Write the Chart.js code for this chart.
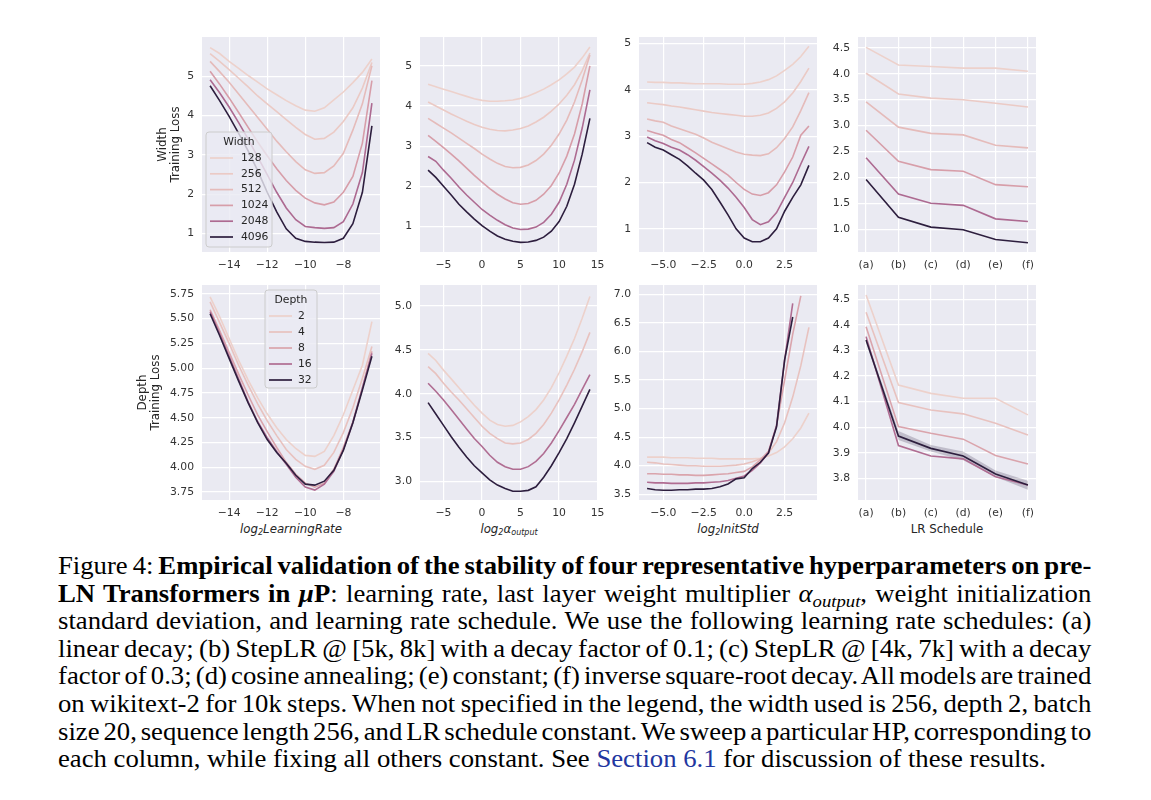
<!DOCTYPE html>
<html>
<head>
<meta charset="utf-8">
<script src="https://cdn.jsdelivr.net/npm/chart.js@4"></script>
<style>
  body { margin: 0; background: #fff; width: 1151px; height: 800px; position: relative; overflow: hidden; }
  canvas { position: absolute; }
  .xt { position: absolute; width: 178px; text-align: center; font-family: "DejaVu Sans"; font-size: 11.8px; color: #262626; line-height: 16px; }
  .xt i { font-style: italic; }
  .xt sub { font-size: 8px; vertical-align: -2px; line-height: 0; }
  .cap { position: absolute; left: 58px; top: 552px; width: 948px; font-family: "Liberation Serif"; font-size: 24.5px; color: #000;
         transform: scaleX(1.09); transform-origin: 0 0; }
  .cap div { height: 27.6px; line-height: 27.6px; white-space: nowrap; text-align: justify; text-align-last: justify; word-spacing: -2.8px; }
  .cap div.last { text-align-last: left; word-spacing: 0; }
  .cap sub { font-size: 0.7em; line-height: 0; vertical-align: -0.3em; }
  .cap .ref { color: #2236a0; }
</style>
</head>
<body>

<div class="xt" style="left:202px;top:521px"><i>log<sub>2</sub>LearningRate</i></div>
<div class="xt" style="left:420px;top:521px"><i>log<sub>2</sub>α<sub>output</sub></i></div>
<div class="xt" style="left:639px;top:521px"><i>log<sub>2</sub>InitStd</i></div>
<div class="xt" style="left:858px;top:521px">LR Schedule</div>

<div class="cap">
  <div>Figure 4: <b>Empirical validation of the stability of four representative hyperparameters on pre-</b></div>
  <div><b>LN Transformers in <i>µ</i>P</b>: learning rate, last layer weight multiplier <i>α<sub>output</sub></i>, weight initialization</div>
  <div>standard deviation, and learning rate schedule. We use the following learning rate schedules: (a)</div>
  <div>linear decay; (b) StepLR @ [5k, 8k] with a decay factor of 0.1; (c) StepLR @ [4k, 7k] with a decay</div>
  <div>factor of 0.3; (d) cosine annealing; (e) constant; (f) inverse square-root decay. All models are trained</div>
  <div>on wikitext-2 for 10k steps. When not specified in the legend, the width used is 256, depth 2, batch</div>
  <div>size 20, sequence length 256, and LR schedule constant. We sweep a particular HP, corresponding to</div>
  <div class="last">each column, while fixing all others constant. See <span class="ref">Section 6.1</span> for discussion of these results.</div>
</div>

<script>
// ---- x values of each sweep ----
const lrX = [-15, -14.5, -14, -13.5, -13, -12.5, -12, -11.5, -11, -10.5, -10, -9.5, -9, -8.5, -8, -7.5, -7, -6.5];
const alphaX = [-7, -6, -5, -4, -3, -2, -1, 0, 1, 2, 3, 4, 5, 6, 7, 8, 9, 10, 11, 12, 13, 14];
const stdX = [-6, -5.5, -5, -4.5, -4, -3.5, -3, -2.5, -2, -1.5, -1, -0.5, 0, 0.5, 1, 1.5, 2, 2.5, 3, 3.5, 4];
const schedules = ['(a)', '(b)', '(c)', '(d)', '(e)', '(f)'];

const widths = [128, 256, 512, 1024, 2048, 4096];
const depths = [2, 4, 8, 16, 32];
const alphaDepths = [2, 4, 16, 32];

// ---- top row: width sweeps (one row per width) ----
const widthLrLoss = [
  [5.73, 5.58, 5.38, 5.2, 5.02, 4.85, 4.68, 4.53, 4.38, 4.25, 4.14, 4.11, 4.2, 4.4, 4.6, 4.84, 5.1, 5.44],
  [5.58, 5.38, 5.17, 4.95, 4.73, 4.5, 4.3, 4.1, 3.9, 3.7, 3.52, 3.4, 3.42, 3.58, 3.85, 4.2, 4.7, 5.35],
  [5.38, 5.12, 4.85, 4.55, 4.25, 3.95, 3.65, 3.35, 3.08, 2.83, 2.62, 2.53, 2.55, 2.72, 3.04, 3.63, 4.3, 5.27],
  [5.13, 4.8, 4.45, 4.08, 3.7, 3.33, 2.98, 2.65, 2.35, 2.1, 1.9, 1.78, 1.73, 1.8, 2.05, 2.45, 3.3, 4.89],
  [4.91, 4.58, 4.22, 3.82, 3.4, 2.95, 2.5, 2.05, 1.65, 1.35, 1.18, 1.15, 1.13, 1.15, 1.3, 1.75, 2.55, 4.32],
  [4.76, 4.38, 3.98, 3.55, 3.1, 2.6, 2.05, 1.55, 1.12, 0.88, 0.8, 0.78, 0.77, 0.78, 0.88, 1.25, 2.05, 3.74]
];
const widthAlphaLoss = [
  [4.54, 4.48, 4.42, 4.36, 4.3, 4.24, 4.18, 4.14, 4.12, 4.12, 4.13, 4.15, 4.19, 4.25, 4.33, 4.42, 4.53, 4.65, 4.8, 4.97, 5.2, 5.47],
  [4.1, 4.0, 3.9, 3.8, 3.71, 3.62, 3.54, 3.47, 3.42, 3.39, 3.38, 3.4, 3.44, 3.5, 3.6, 3.72, 3.87, 4.05, 4.27, 4.53, 4.88, 5.32],
  [3.69, 3.57, 3.45, 3.33, 3.2, 3.07, 2.94, 2.8, 2.68, 2.57, 2.49, 2.46, 2.47, 2.53, 2.64, 2.8, 3.02, 3.3, 3.65, 4.1, 4.65, 5.27],
  [3.27, 3.12, 2.96, 2.8, 2.63, 2.45, 2.27, 2.1, 1.94, 1.8, 1.68, 1.59, 1.55, 1.57, 1.65, 1.8, 2.02, 2.33, 2.75, 3.3, 4.05, 5.0],
  [2.74, 2.62, 2.4, 2.2, 1.98, 1.78, 1.6, 1.42, 1.28, 1.15, 1.04, 0.96, 0.92, 0.93, 0.98, 1.1, 1.3, 1.6, 2.05, 2.65, 3.45, 4.4],
  [2.4, 2.22, 2.0, 1.78, 1.55, 1.36, 1.18, 1.02, 0.88, 0.76, 0.68, 0.63, 0.6, 0.61, 0.65, 0.73, 0.88, 1.12, 1.5, 2.05, 2.8, 3.69]
];
const widthStdLoss = [
  [4.17, 4.16, 4.16, 4.15, 4.15, 4.14, 4.13, 4.13, 4.13, 4.13, 4.12, 4.12, 4.12, 4.14, 4.17, 4.22, 4.3, 4.42, 4.55, 4.72, 4.94],
  [3.72, 3.7, 3.68, 3.65, 3.63, 3.6, 3.57, 3.54, 3.51, 3.49, 3.47, 3.45, 3.43, 3.43, 3.45, 3.5, 3.6, 3.74, 3.93, 4.18, 4.47],
  [3.37, 3.33, 3.3, 3.22, 3.16, 3.1, 3.04, 2.96, 2.87, 2.8, 2.73, 2.66, 2.61, 2.59, 2.58, 2.62, 2.75, 2.95, 3.2, 3.55, 3.94],
  [3.12, 3.07, 3.02, 2.93, 2.86, 2.75, 2.64, 2.52, 2.4, 2.28, 2.16, 2.0, 1.85, 1.75, 1.72, 1.78, 1.95, 2.23, 2.55, 3.02, 3.22],
  [2.98, 2.9, 2.84, 2.76, 2.7, 2.6, 2.48, 2.34, 2.2, 2.05, 1.88, 1.68, 1.46, 1.2, 1.09, 1.15, 1.35, 1.68, 2.0, 2.4, 2.78],
  [2.86, 2.76, 2.7, 2.6, 2.5, 2.36, 2.2, 2.05, 1.85, 1.58, 1.3, 1.0, 0.8, 0.72, 0.72, 0.8, 1.0, 1.38, 1.68, 1.95, 2.37]
];
const widthSchedLoss = [
  [4.51, 4.17, 4.14, 4.11, 4.11, 4.05],
  [4.01, 3.61, 3.53, 3.5, 3.43, 3.36],
  [3.46, 2.97, 2.85, 2.82, 2.62, 2.57],
  [2.91, 2.31, 2.15, 2.12, 1.86, 1.82],
  [2.38, 1.68, 1.5, 1.46, 1.2, 1.15],
  [1.96, 1.23, 1.04, 0.99, 0.8, 0.74]
];

// ---- bottom row: depth sweeps ----
const depthLrLoss = [
  [5.72, 5.52, 5.3, 5.08, 4.88, 4.7, 4.54, 4.4, 4.28, 4.19, 4.12, 4.11, 4.16, 4.32, 4.53, 4.78, 5.03, 5.47],
  [5.67, 5.46, 5.25, 5.03, 4.83, 4.64, 4.47, 4.32, 4.18, 4.08, 4.01, 3.98, 4.02, 4.15, 4.35, 4.6, 4.9, 5.22],
  [5.59, 5.38, 5.16, 4.94, 4.73, 4.53, 4.36, 4.2, 4.05, 3.93, 3.84, 3.8, 3.84, 3.98, 4.2, 4.46, 4.8, 5.17],
  [5.57, 5.35, 5.12, 4.89, 4.66, 4.46, 4.3, 4.16, 4.03, 3.9, 3.8, 3.77, 3.83, 3.96, 4.18, 4.45, 4.8, 5.15],
  [5.55, 5.33, 5.1, 4.87, 4.65, 4.45, 4.28, 4.15, 4.04, 3.92, 3.83, 3.82, 3.86, 3.97, 4.17, 4.45, 4.78, 5.12]
];
const depthAlphaLoss = [
  [4.46, 4.38, 4.27, 4.17, 4.07, 3.97, 3.87, 3.78, 3.7, 3.65, 3.63, 3.64, 3.68, 3.74, 3.82, 3.93, 4.07, 4.24, 4.43, 4.63, 4.86, 5.11],
  [4.31, 4.23, 4.12, 4.02, 3.93, 3.83, 3.73, 3.63, 3.55, 3.49, 3.44, 3.43, 3.44, 3.48, 3.55, 3.65, 3.78, 3.93, 4.1, 4.28, 4.48, 4.7],
  [4.12, 4.03, 3.93, 3.82, 3.71, 3.6, 3.49, 3.4, 3.3, 3.22, 3.17, 3.14, 3.14, 3.17, 3.23, 3.32, 3.44, 3.58, 3.73, 3.88, 4.05, 4.22],
  [3.9, 3.77, 3.64, 3.51, 3.39, 3.28, 3.18, 3.1, 3.02, 2.96, 2.92, 2.89, 2.89, 2.9, 2.94, 3.05, 3.18, 3.33, 3.49, 3.67, 3.86, 4.05]
];
// deeper models diverge earlier, so their runs stop at a smaller init std
const depthStdLoss = [
  [4.15, 4.15, 4.15, 4.14, 4.14, 4.14, 4.13, 4.13, 4.13, 4.12, 4.12, 4.12, 4.12, 4.12, 4.13, 4.17, 4.23, 4.33, 4.47, 4.66, 4.92],
  [4.06, 4.05, 4.03, 4.02, 4.01, 4.0, 4.0, 3.99, 3.99, 3.99, 4.0, 4.01, 4.03, 4.07, 4.12, 4.22, 4.42, 4.75, 5.2, 5.75, 6.42],
  [3.86, 3.86, 3.85, 3.85, 3.84, 3.84, 3.83, 3.83, 3.84, 3.85, 3.86, 3.88, 3.9, 3.98, 4.1, 4.25, 4.7, 5.5, 6.3, 6.97],
  [3.71, 3.7, 3.7, 3.69, 3.69, 3.69, 3.7, 3.7, 3.71, 3.72, 3.74, 3.78, 3.82, 3.92, 4.05, 4.23, 4.7, 5.85, 6.84],
  [3.6, 3.58, 3.57, 3.57, 3.58, 3.58, 3.59, 3.59, 3.6, 3.63, 3.68, 3.77, 3.79, 3.95, 4.06, 4.22, 4.68, 5.85, 6.6]
];
const depthSchedLoss = [
  [4.517, 4.165, 4.132, 4.113, 4.113, 4.048],
  [4.449, 4.096, 4.067, 4.052, 4.015, 3.969],
  [4.393, 4.002, 3.976, 3.953, 3.889, 3.856],
  [4.354, 3.928, 3.887, 3.876, 3.806, 3.774],
  [4.341, 3.965, 3.917, 3.887, 3.817, 3.774]
];
const depth32SchedLow = [4.33, 3.95, 3.905, 3.87, 3.805, 3.755];
const depth32SchedHigh = [4.352, 3.985, 3.93, 3.905, 3.83, 3.79];

// ---- tick values ----
const lrTicks = [-14, -12, -10, -8];
const alphaTicks = [-5, 0, 5, 10, 15];
const stdTicks = [-5, -2.5, 0, 2.5];
const schedTicks = [0, 1, 2, 3, 4, 5];
const widthLossTicks = [1, 2, 3, 4, 5];
const widthSchedTicks = [1.0, 1.5, 2.0, 2.5, 3.0, 3.5, 4.0, 4.5];
const depthLrTicks = [3.75, 4.0, 4.25, 4.5, 4.75, 5.0, 5.25, 5.5, 5.75];
const depthAlphaTicks = [3.0, 3.5, 4.0, 4.5, 5.0];
const depthStdTicks = [3.5, 4.0, 4.5, 5.0, 5.5, 6.0, 6.5, 7.0];
const depthSchedTicks = [3.8, 3.9, 4.0, 4.1, 4.2, 4.3, 4.4, 4.5];

// seaborn's default numeric hue palette (cubehelix, light -> dark)
function cubehelix(v) {
  const x = 0.85 - 0.7 * v;
  const a = 0.4 * x * (1 - x);
  const phi = 0.8 * Math.PI * x;
  const c = Math.cos(phi), s = Math.sin(phi);
  const f = t => Math.round(Math.min(1, Math.max(0, t)) * 255);
  const r = x + a * (-0.14861 * c + 1.78277 * s);
  const g = x + a * (-0.29227 * c - 0.90649 * s);
  const b = x + a * (1.97294 * c);
  return 'rgb(' + f(r) + ',' + f(g) + ',' + f(b) + ')';
}
const widthColors = widths.map(w => cubehelix((w - 128) / (4096 - 128)));
const depthColor = d => cubehelix((d - 2) / 30);
const depthColors = depths.map(depthColor);
const alphaDepthColors = alphaDepths.map(depthColor);

const fmtInt = v => (v < 0 ? '\u2212' : '') + Math.abs(v);
const fmt1 = v => (v < 0 ? '\u2212' : '') + Math.abs(v).toFixed(1);
const fmt2 = v => (v < 0 ? '\u2212' : '') + Math.abs(v).toFixed(2);
const fmtSched = v => schedules[v];

const COLS = [202, 420, 639, 858];
const ROWS = [37, 285];
const PLOT_W = 178, PLOT_H = 215;
const TOP_PAD = 8, RIGHT_PAD = 14, X_AXIS_H = 26;
const tickFont = { family: 'DejaVu Sans', size: 10.8 };

const darkgrid = {
  id: 'darkgrid',
  beforeDraw(chart) {
    const { ctx, chartArea: a } = chart;
    ctx.save();
    ctx.fillStyle = '#eaeaf2';
    ctx.fillRect(a.left, a.top, a.right - a.left, a.bottom - a.top);
    ctx.restore();
  }
};

function boxLegend(spec) {
  return {
    id: 'boxLegend',
    afterDatasetsDraw(chart) {
      const { ctx, chartArea: a } = chart;
      const x = a.left + spec.x, y = a.top + spec.y;
      ctx.save();
      ctx.beginPath();
      ctx.roundRect(x, y, spec.w, spec.h, 3);
      ctx.fillStyle = 'rgba(234,234,242,0.8)';
      ctx.fill();
      ctx.strokeStyle = '#cccccc';
      ctx.lineWidth = 1;
      ctx.stroke();
      ctx.font = '10.8px "DejaVu Sans"';
      ctx.fillStyle = '#262626';
      ctx.textBaseline = 'middle';
      ctx.textAlign = 'center';
      ctx.fillText(spec.title, x + spec.w / 2, y + 10);
      ctx.textAlign = 'left';
      spec.labels.forEach((lab, i) => {
        const ry = y + 26 + i * spec.rowH;
        ctx.strokeStyle = spec.colors[i];
        ctx.lineWidth = 1.7;
        ctx.beginPath();
        ctx.moveTo(x + 4, ry);
        ctx.lineTo(x + 27, ry);
        ctx.stroke();
        ctx.fillText(lab, x + spec.labelX, ry);
      });
      ctx.restore();
    }
  };
}

function lineSets(xs, rows, colors) {
  return rows.map((ys, i) => ({
    data: ys.map((y, j) => ({ x: xs[j], y: y })),
    borderColor: colors[i],
    borderWidth: 1.6,
    pointRadius: 0,
    fill: false,
    tension: 0,
    order: rows.length - i
  }));
}

function makePanel(p) {
  const left = COLS[p.col], top = ROWS[p.row];
  const L = p.yAxisW || 45;
  const canvas = document.createElement('canvas');
  canvas.width = L + PLOT_W + RIGHT_PAD;
  canvas.height = TOP_PAD + PLOT_H + X_AXIS_H;
  canvas.style.left = (left - L) + 'px';
  canvas.style.top = (top - TOP_PAD) + 'px';
  document.body.appendChild(canvas);

  const plugins = [darkgrid];
  if (p.legend) plugins.push(boxLegend(p.legend));

  new Chart(canvas.getContext('2d'), {
    type: 'line',
    data: { datasets: p.datasets },
    plugins: plugins,
    options: {
      responsive: false,
      devicePixelRatio: 1,
      animation: false,
      events: [],
      layout: { padding: { left: 0, top: TOP_PAD, right: RIGHT_PAD, bottom: 0 } },
      plugins: { legend: { display: false }, tooltip: { enabled: false } },
      scales: {
        x: {
          type: 'linear', min: p.xMin, max: p.xMax, bounds: 'data',
          afterBuildTicks: s => { s.ticks = p.xTicks.map(v => ({ value: v })); },
          afterFit: s => { s.height = X_AXIS_H; s.paddingLeft = 0; s.paddingRight = 0; },
          grid: { color: '#ffffff', lineWidth: 1.2, drawTicks: false },
          border: { display: false },
          ticks: { callback: p.xFmt, color: '#333333', font: tickFont, padding: 7, maxRotation: 0, autoSkip: false }
        },
        y: {
          type: 'linear', min: p.yMin, max: p.yMax, bounds: 'data',
          afterBuildTicks: s => { s.ticks = p.yTicks.map(v => ({ value: v })); },
          afterFit: s => { s.width = L; s.paddingTop = 0; s.paddingBottom = 0; },
          grid: { color: '#ffffff', lineWidth: 1.2, drawTicks: false },
          border: { display: false },
          ticks: { callback: p.yFmt, color: '#333333', font: tickFont, padding: 8, autoSkip: false },
          title: p.yTitle ? {
            display: true, text: p.yTitle, color: '#262626',
            font: { family: 'DejaVu Sans', size: 11.8, lineHeight: 1.1 }, padding: { top: 4, bottom: 0 }
          } : { display: false }
        }
      }
    }
  });
}

const schedX = schedules.map((_, i) => i);
const schedBand = [
  { data: depth32SchedLow.map((y, j) => ({ x: schedX[j], y: y })), borderWidth: 0, pointRadius: 0, fill: false, order: 50 },
  { data: depth32SchedHigh.map((y, j) => ({ x: schedX[j], y: y })), borderWidth: 0, pointRadius: 0, fill: '-1',
    backgroundColor: 'rgba(45,30,62,0.22)', order: 50 }
];

// top row
makePanel({
  col: 0, row: 0, yAxisW: 50, yTitle: ['Width', 'Training Loss'],
  xMin: -15.425, xMax: -6.075, xTicks: lrTicks, xFmt: fmtInt,
  yMin: 0.53, yMax: 6.0, yTicks: widthLossTicks, yFmt: fmtInt,
  datasets: lineSets(lrX, widthLrLoss, widthColors),
  legend: { title: 'Width', labels: widths.map(String), colors: widthColors, x: 4, y: 95, w: 66, h: 115, rowH: 15.8, labelX: 35 }
});
makePanel({
  col: 1, row: 0,
  xMin: -8.05, xMax: 15.05, xTicks: alphaTicks, xFmt: fmtInt,
  yMin: 0.36, yMax: 5.72, yTicks: widthLossTicks, yFmt: fmtInt,
  datasets: lineSets(alphaX, widthAlphaLoss, widthColors)
});
makePanel({
  col: 2, row: 0,
  xMin: -6.5, xMax: 4.5, xTicks: stdTicks, xFmt: fmt1,
  yMin: 0.5, yMax: 5.14, yTicks: widthLossTicks, yFmt: fmtInt,
  datasets: lineSets(stdX, widthStdLoss, widthColors)
});
makePanel({
  col: 3, row: 0,
  xMin: -0.25, xMax: 5.25, xTicks: schedTicks, xFmt: fmtSched,
  yMin: 0.56, yMax: 4.71, yTicks: widthSchedTicks, yFmt: fmt1,
  datasets: lineSets(schedX, widthSchedLoss, widthColors)
});

// bottom row
makePanel({
  col: 0, row: 1, yAxisW: 70, yTitle: ['Depth', 'Training Loss'],
  xMin: -15.425, xMax: -6.075, xTicks: lrTicks, xFmt: fmtInt,
  yMin: 3.67, yMax: 5.84, yTicks: depthLrTicks, yFmt: fmt2,
  datasets: lineSets(lrX, depthLrLoss, depthColors),
  legend: { title: 'Depth', labels: depths.map(String), colors: depthColors, x: 63, y: 5, w: 52, h: 98, rowH: 16, labelX: 33 }
});
makePanel({
  col: 1, row: 1,
  xMin: -8.05, xMax: 15.05, xTicks: alphaTicks, xFmt: fmtInt,
  yMin: 2.79, yMax: 5.24, yTicks: depthAlphaTicks, yFmt: fmt1,
  datasets: lineSets(alphaX, depthAlphaLoss, alphaDepthColors)
});
makePanel({
  col: 2, row: 1,
  xMin: -6.5, xMax: 4.5, xTicks: stdTicks, xFmt: fmt1,
  yMin: 3.4, yMax: 7.16, yTicks: depthStdTicks, yFmt: fmt1,
  datasets: lineSets(stdX, depthStdLoss, depthColors)
});
makePanel({
  col: 3, row: 1,
  xMin: -0.25, xMax: 5.25, xTicks: schedTicks, xFmt: fmtSched,
  yMin: 3.715, yMax: 4.556, yTicks: depthSchedTicks, yFmt: fmt1,
  datasets: schedBand.concat(lineSets(schedX, depthSchedLoss, depthColors))
});
</script>
</body>
</html>
